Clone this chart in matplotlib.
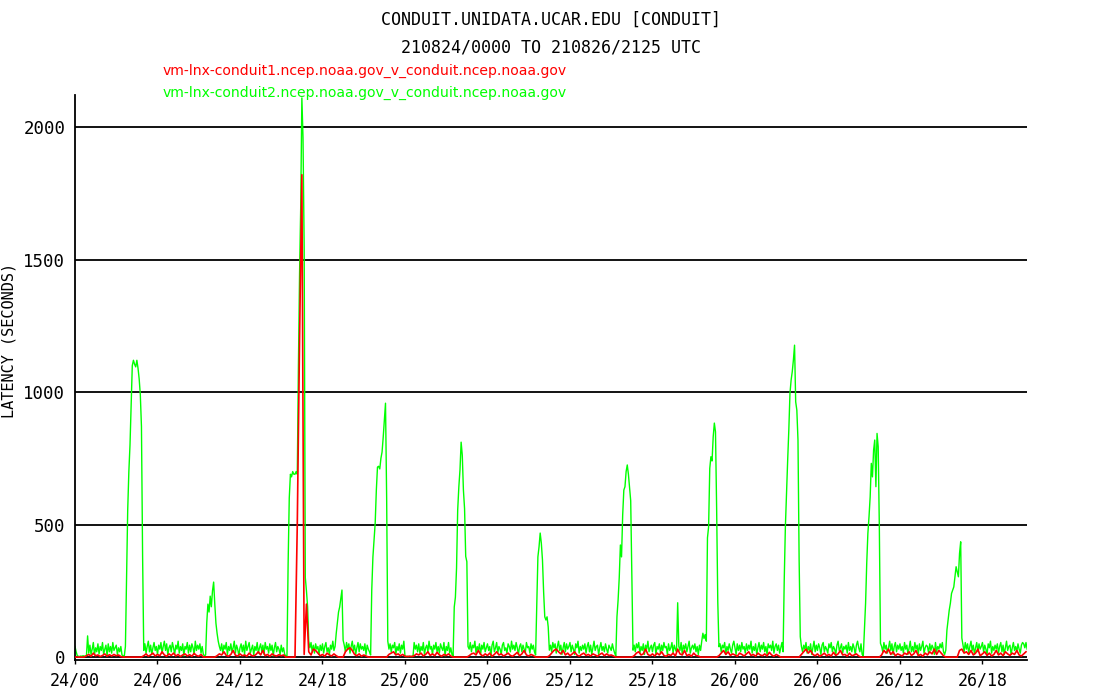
"""LDM CONDUIT feed latency plot for two upstream hosts."""

import matplotlib

matplotlib.use("Agg")
import matplotlib.pyplot as plt  # noqa: E402
import numpy as np  # noqa: E402

title = "CONDUIT.UNIDATA.UCAR.EDU [CONDUIT]"
subtitle = "210824/0000 TO 210826/2125 UTC"
host_red = "vm-lnx-conduit1.ncep.noaa.gov_v_conduit.ncep.noaa.gov"
host_green = "vm-lnx-conduit2.ncep.noaa.gov_v_conduit.ncep.noaa.gov"

# latency in seconds, starting 24/00 UTC, one row per hour
green_step_minutes = 5
red_step_minutes = 10
span_hours = 69.24

green_latency = [
    40, 20, 5, 3, 2, 4, 3, 5, 4, 3, 6, 80,
    15, 45, 10, 30, 55, 8, 35, 20, 50, 12, 40, 25,
    55, 10, 30, 45, 5, 50, 20, 40, 15, 55, 25, 35,
    45, 10, 35, 20, 40, 8, 5, 3, 40, 300, 555, 700,
    800, 945, 1100, 1120, 1105, 1095, 1120, 1090, 1050, 990, 870, 380,
    25, 50, 15, 40, 60, 20, 45, 10, 35, 55, 25, 40,
    10, 45, 30, 55, 15, 40, 60, 25, 50, 8, 35, 45,
    20, 55, 35, 10, 45, 30, 60, 15, 40, 25, 50, 5,
    40, 30, 55, 15, 45, 20, 50, 35, 10, 60, 25, 45,
    30, 50, 15, 40, 10, 5, 8, 130, 200, 170, 230, 190,
    250, 283, 200, 128, 90, 60, 40, 25, 50, 15, 45, 30,
    55, 10, 40, 25, 50, 20, 35, 60, 15, 45, 30, 5,
    35, 50, 20, 45, 10, 60, 25, 40, 55, 15, 30, 45,
    8, 40, 25, 55, 15, 35, 50, 20, 45, 10, 55, 30,
    40, 15, 50, 25, 45, 5, 35, 55, 20, 40, 30, 10,
    45, 20, 35, 10, 5, 4, 350, 600, 690, 680, 700, 690,
    690, 700, 690, 1100, 1450, 1700, 2110, 1960, 1550, 300, 250, 190,
    60, 35, 55, 20, 45, 15, 50, 30, 40, 10, 45, 25,
    50, 15, 40, 55, 20, 35, 10, 45, 30, 60, 25, 40,
    90, 130, 170, 189, 220, 253, 64, 45, 20, 55, 30, 50,
    15, 40, 60, 25, 45, 10, 35, 55, 20, 50, 30, 40,
    25, 50, 10, 45, 30, 20, 8, 253, 377, 440, 506, 630,
    717, 720, 710, 750, 774, 830, 894, 958, 600, 60, 30, 50,
    20, 45, 35, 55, 10, 40, 25, 50, 15, 45, 30, 60,
    3, 2, 3, 2, 3, 2, 3, 2, 55, 30, 45, 20,
    50, 15, 40, 25, 55, 10, 35, 45, 20, 60, 30, 40,
    10, 45, 30, 55, 20, 40, 15, 50, 35, 25, 55, 5,
    40, 25, 55, 15, 35, 10, 5, 189, 226, 336, 555, 642,
    706, 811, 762, 630, 560, 380, 360, 40, 30, 55, 20, 45,
    35, 60, 15, 40, 25, 50, 10, 45, 30, 55, 20, 35,
    50, 25, 40, 5, 45, 60, 20, 35, 55, 15, 40, 30,
    10, 45, 55, 25, 35, 15, 50, 40, 20, 60, 30, 45,
    25, 55, 35, 10, 40, 50, 20, 45, 30, 15, 55, 35,
    40, 15, 50, 30, 45, 20, 8, 200, 378, 416, 468, 430,
    366, 246, 152, 140, 152, 114, 26, 45, 20, 55, 35, 50,
    15, 40, 60, 25, 45, 10, 35, 55, 20, 50, 30, 40,
    55, 20, 45, 30, 10, 50, 35, 60, 15, 40, 25, 45,
    30, 50, 15, 40, 55, 20, 45, 10, 35, 60, 25, 40,
    45, 10, 35, 55, 25, 40, 20, 50, 30, 15, 45, 35,
    25, 50, 30, 15, 5, 152, 215, 300, 423, 378, 536, 630,
    643, 700, 725, 690, 640, 590, 300, 26, 45, 20, 50, 35,
    55, 15, 40, 25, 50, 10, 45, 30, 60, 20, 35, 45,
    20, 45, 55, 10, 40, 30, 50, 15, 45, 25, 55, 35,
    40, 10, 50, 25, 35, 55, 15, 45, 30, 20, 205, 40,
    25, 55, 10, 45, 30, 50, 20, 40, 60, 15, 35, 45,
    30, 50, 20, 40, 10, 45, 25, 60, 90, 70, 85, 60,
    450, 492, 712, 756, 740, 831, 883, 850, 561, 209, 39, 50,
    20, 45, 35, 55, 10, 40, 25, 50, 30, 15, 45, 60,
    35, 10, 50, 25, 45, 20, 55, 30, 40, 15, 50, 25,
    45, 30, 60, 15, 40, 25, 50, 10, 35, 55, 20, 45,
    30, 55, 20, 40, 10, 50, 35, 45, 25, 60, 15, 40,
    50, 25, 45, 15, 35, 55, 20, 291, 492, 618, 743, 857,
    995, 1045, 1077, 1121, 1177, 963, 932, 819, 366, 77, 40, 20,
    45, 30, 55, 15, 40, 25, 50, 10, 35, 60, 20, 45,
    25, 50, 35, 10, 45, 55, 20, 40, 30, 15, 50, 35,
    55, 20, 40, 30, 10, 45, 60, 25, 35, 50, 15, 40,
    30, 45, 15, 55, 25, 40, 20, 50, 35, 10, 45, 60,
    35, 20, 50, 10, 5, 102, 203, 354, 467, 530, 605, 731,
    680, 781, 819, 643, 844, 794, 492, 52, 40, 20, 55, 30,
    45, 15, 35, 60, 25, 50, 10, 40, 55, 20, 45, 30,
    50, 25, 40, 15, 55, 30, 45, 10, 35, 60, 20, 40,
    20, 55, 30, 45, 10, 50, 25, 40, 60, 15, 35, 45,
    40, 15, 50, 25, 45, 35, 10, 55, 20, 40, 30, 50,
    35, 55, 20, 10, 26, 102, 140, 177, 203, 240, 253, 265,
    303, 341, 322, 303, 391, 435, 72, 45, 20, 55, 30, 50,
    15, 40, 60, 25, 45, 10, 35, 55, 20, 50, 30, 40,
    55, 20, 45, 30, 10, 50, 35, 60, 15, 40, 25, 45,
    30, 50, 15, 40, 55, 20, 45, 10, 35, 60, 25, 40,
    45, 10, 35, 55, 25, 40, 20, 50, 30, 15, 45, 55,
    50, 35, 55, 30,
]

red_latency = [
    0, 0, 0, 0, 0, 5,
    10, 3, 15, 5, 8, 2,
    6, 12, 3, 9, 4, 10,
    5, 8, 2, 0, 0, 0,
    0, 0, 0, 0, 0, 0,
    5, 12, 3, 8, 15, 4,
    10, 5, 20, 8, 3, 12,
    6, 15, 4, 10, 2, 8,
    12, 4, 9, 3, 14, 6,
    3, 10, 0, 0, 0, 0,
    0, 0, 5, 12, 8, 20,
    6, 3, 10, 25, 7, 4,
    12, 5, 8, 3, 15, 6,
    4, 10, 20, 8, 25, 5,
    10, 3, 12, 6, 4, 9,
    5, 8, 0, 0, 0, 0,
    0, 500, 1200, 1820, 10, 200,
    20, 8, 30, 25, 15, 5,
    10, 3, 15, 8, 4, 12,
    5, 0, 0, 0, 20, 30,
    35, 25, 10, 5, 12, 3,
    8, 4, 0, 0, 0, 0,
    0, 0, 0, 0, 0, 10,
    15, 20, 8, 12, 5, 10,
    3, 2, 3, 2, 5, 12,
    8, 15, 4, 10, 20, 6,
    12, 5, 18, 8, 3, 10,
    6, 12, 4, 0, 0, 0,
    0, 0, 0, 0, 5, 12,
    15, 8, 25, 10, 4, 12,
    6, 15, 3, 10, 20, 8,
    12, 4, 9, 15, 6, 3,
    10, 18, 5, 12, 25, 8,
    4, 10, 6, 0, 0, 0,
    0, 0, 0, 5, 15, 25,
    30, 20, 12, 25, 8, 15,
    5, 12, 20, 8, 3, 10,
    15, 6, 10, 4, 12, 8,
    3, 10, 15, 5, 12, 6,
    8, 4, 0, 0, 0, 0,
    0, 0, 0, 0, 5, 15,
    20, 8, 12, 30, 10, 5,
    12, 4, 15, 8, 20, 6,
    3, 10, 6, 15, 4, 30,
    12, 8, 25, 5, 10, 3,
    15, 6, 4, 0, 0, 0,
    0, 0, 0, 0, 0, 5,
    15, 25, 10, 20, 6, 12,
    8, 3, 15, 10, 4, 12,
    20, 6, 10, 3, 15, 8,
    5, 12, 4, 18, 8, 3,
    10, 5, 0, 0, 0, 0,
    0, 0, 0, 0, 0, 10,
    20, 30, 15, 25, 10, 5,
    12, 3, 8, 15, 5, 10,
    4, 18, 6, 12, 25, 8,
    10, 3, 15, 5, 8, 12,
    4, 0, 0, 0, 0, 0,
    0, 0, 0, 0, 8, 25,
    15, 30, 10, 20, 5, 12,
    8, 4, 15, 10, 20, 6,
    12, 25, 5, 10, 3, 15,
    8, 20, 12, 30, 10, 25,
    15, 5, 0, 0, 0, 0,
    0, 0, 25, 30, 15, 20,
    10, 25, 8, 15, 30, 5,
    12, 20, 6, 15, 4, 10,
    25, 8, 15, 5, 20, 12,
    6, 15, 10, 25, 8, 4,
    12, 20,
]

tick_hours = [0, 6, 12, 18, 24, 30, 36, 42, 48, 54, 60, 66]
tick_labels = ["24/00", "24/06", "24/12", "24/18", "25/00", "25/06",
               "25/12", "25/18", "26/00", "26/06", "26/12", "26/18"]
grid_levels = [0, 500, 1000, 1500, 2000]

green_hours = np.arange(len(green_latency)) * green_step_minutes / 60
red_hours = np.arange(len(red_latency)) * red_step_minutes / 60

mono = "DejaVu Sans Mono"
fig = plt.figure(figsize=(11, 7), dpi=100)
ax = fig.add_axes([75 / 1100, 1 - 660 / 700, 952 / 1100, 565 / 700])

for level in grid_levels:
    ax.axhline(level, color="black", linewidth=1.3, zorder=1)

ax.plot(green_hours, green_latency, color="#00ff00", linewidth=1.0, zorder=2)
ax.plot(red_hours, red_latency, color="#ff0000", linewidth=1.2, zorder=3)

ax.set_xlim(0, span_hours)
ax.set_ylim(-11, 2121)
ax.set_xticks(tick_hours)
ax.set_xticklabels(tick_labels, family=mono, fontsize=12)
ax.set_yticks(grid_levels)
ax.set_yticklabels([str(v) for v in grid_levels], family=mono, fontsize=12.5)
ax.tick_params(axis="x", direction="out", length=3, width=1, pad=5)
ax.tick_params(axis="y", length=0, pad=7)
for side in ("top", "right"):
    ax.spines[side].set_visible(False)
for side in ("left", "bottom"):
    ax.spines[side].set_linewidth(1.3)

fig.text(9 / 1100, 1 - 340 / 700, "LATENCY (SECONDS)", family=mono, fontsize=11,
         rotation=90, ha="center", va="center")
fig.text(551 / 1100, 1 - 20 / 700, title, family=mono, fontsize=12,
         ha="center", va="center")
fig.text(551 / 1100, 1 - 47 / 700, subtitle, family=mono, fontsize=12,
         ha="center", va="center")
fig.text(163 / 1100, 1 - 71 / 700, host_red, color="#ff0000", fontsize=10.1,
         ha="left", va="center")
fig.text(163 / 1100, 1 - 93 / 700, host_green, color="#00ff00", fontsize=10.1,
         ha="left", va="center")

fig.savefig("out.png", dpi=100, facecolor="white")
plt.close(fig)
